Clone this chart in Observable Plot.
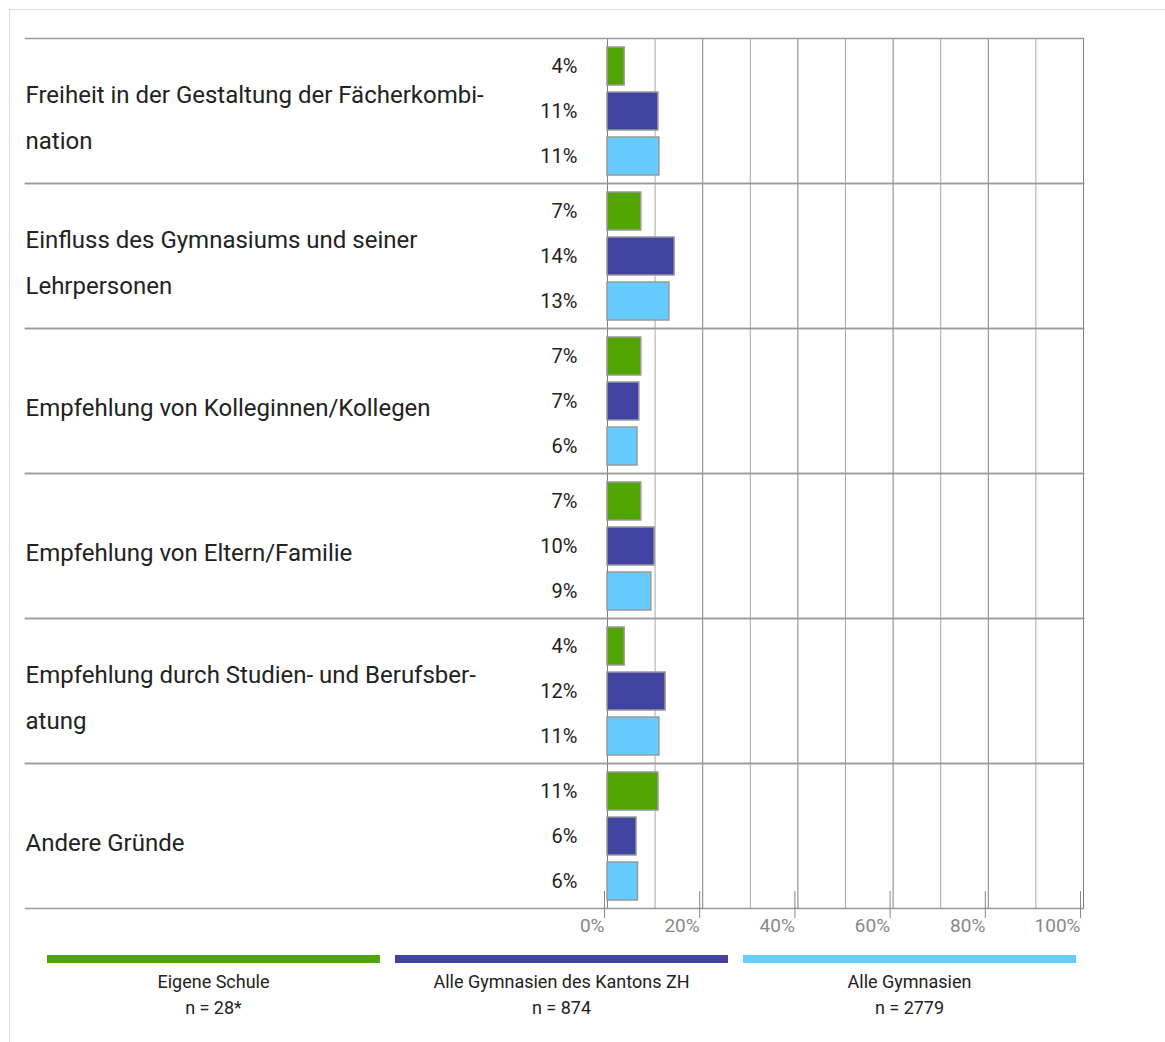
<!DOCTYPE html>
<html>
<head>
<meta charset="utf-8">
<script src="https://cdn.jsdelivr.net/npm/d3@7"></script>
<script src="https://cdn.jsdelivr.net/npm/@observablehq/plot@0.6"></script>
<style>
  body { margin: 0; background: #fff; font-family: Roboto, "DejaVu Sans", sans-serif; }
  #wrap { position: relative; width: 1165px; height: 1042px; overflow: hidden; }
  #border { position: absolute; left: 9px; top: 9px; right: 0; bottom: 0; border-top: 1.5px solid #dcdcdc; border-left: 1.5px solid #dcdcdc; pointer-events: none; }
  #chart { position: absolute; left: 0; top: 0; }
  #legend { position: absolute; top: 955px; left: 47px; display: flex; gap: 15px; }
  .item { width: 333px; text-align: center; font-size: 18px; color: #222; }
  .swatch { height: 8px; margin-bottom: 6px; }
  .item div.t { line-height: 26px; }
</style>
</head>
<body>
<div id="wrap">
  <div id="border"></div>
  <div id="chart"></div>
  <div id="legend"></div>
</div>
<script>
const categories = [
  "Freiheit in der Gestaltung der Fächerkombination",
  "Einfluss des Gymnasiums und seiner Lehrpersonen",
  "Empfehlung von Kolleginnen/Kollegen",
  "Empfehlung von Eltern/Familie",
  "Empfehlung durch Studien- und Berufsberatung",
  "Andere Gründe"
];
const categoryLabels = [
  "Freiheit in der Gestaltung der Fächerkombi-\nnation",
  "Einfluss des Gymnasiums und seiner\nLehrpersonen",
  "Empfehlung von Kolleginnen/Kollegen",
  "Empfehlung von Eltern/Familie",
  "Empfehlung durch Studien- und Berufsber-\natung",
  "Andere Gründe"
];
const series = ["Eigene Schule", "Alle Gymnasien des Kantons ZH", "Alle Gymnasien"];
const seriesN = ["n = 28*", "n = 874", "n = 2779"];
const colors = ["#52a500", "#4242a3", "#66ccff"];

const eigeneSchule  = [3.6, 7.1, 7.1, 7.1, 3.6, 10.7];
const kantonZH      = [10.7, 14.1, 6.7, 9.9, 12.2, 6.1];
const alleGymnasien = [10.9, 13.0, 6.3, 9.2, 10.9, 6.4];

const xTicks = [0, 20, 40, 60, 80, 100];
const gridMinor = [10, 30, 50, 70, 90];
const gridMajor = [0, 20, 40, 60, 80, 100];

const valuesBySeries = [eigeneSchule, kantonZH, alleGymnasien];
const data = [];
categories.forEach((c, i) => {
  series.forEach((s, j) => {
    data.push({category: c, series: s, value: valuesBySeries[j][i]});
  });
});

const chart = Plot.plot({
  width: 1165,
  height: 945,
  marginTop: 38,
  marginBottom: 37,
  marginLeft: 25,
  marginRight: 82,
  style: {fontFamily: "Roboto, 'DejaVu Sans', sans-serif", background: "transparent"},
  x: {domain: [0, 100], range: [607, 1083], label: null},
  y: {domain: series, paddingInner: 0.165, paddingOuter: 0.176, axis: null},
  fy: {domain: categories, padding: 0, axis: null},
  color: {domain: series, range: colors},
  marks: [
    Plot.ruleX(gridMinor, {stroke: "#a8a8a8", strokeWidth: 1}),
    Plot.ruleX(gridMajor, {stroke: "#808080", strokeWidth: 1}),
    Plot.frame({anchor: "top", stroke: "#9a9a9a", strokeWidth: 1.5}),
    Plot.frame({anchor: "bottom", stroke: "#9a9a9a", strokeWidth: 1.5}),
    Plot.barX(data, {x: "value", y: "series", fy: "category", fill: "series", stroke: "#999", strokeWidth: 1.5}),
    Plot.text(data, {x: 0, y: "series", fy: "category", text: d => Math.round(d.value) + "%", textAnchor: "end", dx: -30, fontSize: 20, fill: "#222"}),
    Plot.text(categories, {fy: d => d, text: (d, i) => categoryLabels[i], frameAnchor: "left", textAnchor: "start", lineHeight: 1.92, fontSize: 24, fill: "#222"}),
    Plot.axisX(xTicks, {anchor: "bottom", label: null, tickSize: 27, tickPadding: 0, dy: -17, dx: -3, textAnchor: "end", tickFormat: d => d + "%", fill: "#888", stroke: "#888", fontSize: 19})
  ]
});
document.getElementById("chart").appendChild(chart);

const legend = document.getElementById("legend");
series.forEach((s, j) => {
  const item = document.createElement("div");
  item.className = "item";
  item.innerHTML = `<div class="swatch" style="background:${colors[j]}"></div><div class="t">${s}</div><div class="t">${seriesN[j]}</div>`;
  legend.appendChild(item);
});
</script>
</body>
</html>
